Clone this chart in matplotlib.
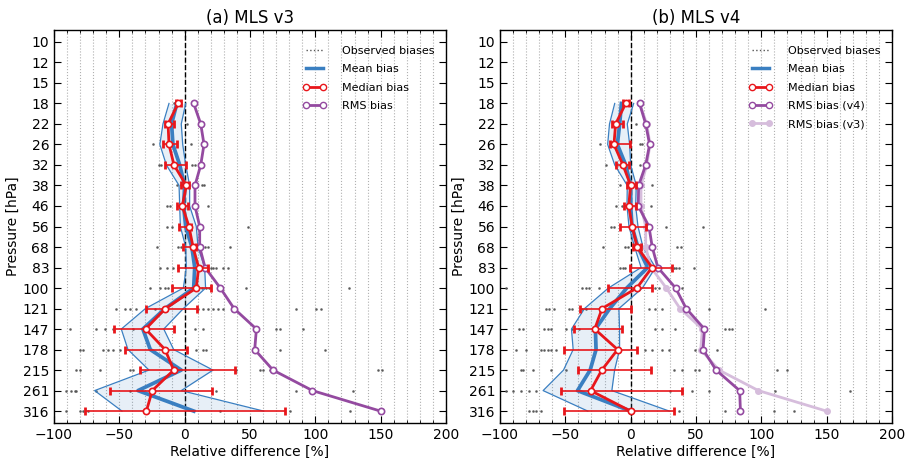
import numpy as np
import matplotlib
matplotlib.use("Agg")
import matplotlib.pyplot as plt
from matplotlib.lines import Line2D
from matplotlib.ticker import MultipleLocator, NullLocator

# ---------------- data ----------------
tick_labels = ["10", "12", "15", "18", "22", "26", "32", "38", "46", "56",
               "68", "83", "100", "121", "147", "178", "215", "261", "316"]
pressure_all = [10 ** (1 + k / 12) for k in range(19)]
pressure = pressure_all[3:]          # levels 18 ... 316 hPa carrying data

# (a) MLS v3
median_v3 = [-5, -12.7, -12, -8.2, 1.3, -1.8, 3.3, 6.4, 10.7, 8.9, -14.8, -29.9, -15, -8.4, -24.8, -29.3]
med_lo_v3 = [-7, -14.8, -16.6, -15.3, -3, -6, -4.3, -1.5, -5, -9.7, -29.3, -54.4, -45.4, -34, -57.4, -76]
med_hi_v3 = [-3, -8.2, -5.9, 1.3, 3.3, 2.3, 4.6, 9, 17.9, 19.9, 9.4, -8.4, 2, 38.3, 20.9, 76.6]
mean_v3 = [-6, -10, -9, -3.8, 0, -0.8, 0.8, 5.5, 7.7, 6.9, -15, -32, -26.3, -2.6, -35.7, 7]
band_lo_v3 = [-12, -16.6, -19, -14, -4.3, -3.8, -3.3, 0.8, 1.3, -1, -30, -48.5, -43.4, -27.3, -68.9, -48]
band_hi_v3 = [0.8, -2.6, -1.5, 0.8, 3.8, 3.8, 8.9, 10.2, 15.3, 16, -1, -16, -8.4, 21.7, -2.6, 60.5]
rms_v3 = [6.9, 12.3, 14.8, 12.3, 7.9, 7.9, 11.5, 11.5, 15.6, 27.3, 37.8, 54.9, 53.6, 67.6, 97.8, 149.9]

# (b) MLS v4
median_v4 = [-3.8, -11.5, -12.8, -5.9, 0, -1.5, 1.2, 5, 16.3, 4.7, -21.9, -27.5, -10, -22.1, -30.7, 0]
med_lo_v4 = [-5.9, -14, -16, -11.5, -2.6, -5.1, -8.4, 2, -0.8, -17.6, -39, -43.4, -50.8, -40.5, -53, -51.4]
med_hi_v4 = [-1.5, -5.9, -0.8, -1.3, 4.3, 3.8, 11.5, 8, 31.5, 16, 0, -6.8, 5, 15.2, 39.4, 32.8]
mean_v4 = [-7.1, -8.4, -10.2, -3.8, 0, 0, 1, 5.5, 13, -3, -16, -27, -26.5, -31, -40.7, 0]
band_lo_v4 = [-12.2, -16.2, -17.6, -12.2, -2.6, -2.8, -1.3, 3, 8, -17, -35.3, -45.3, -44, -51.4, -67, -32.8]
band_hi_v4 = [2.3, -2.6, -0.8, 0, 4.3, 3.8, 5.6, 9.4, 19, 9, -9, -8.5, -8.5, -12.3, -14.4, 29.6]
rms_v4 = [6.8, 11.5, 14.5, 11.5, 6.1, 5.8, 14, 16.5, 20.8, 34.4, 42.5, 56.5, 55.4, 65.4, 83.4, 84]

# observed individual biases per level (18 ... 316 hPa)
obs_v3 = [
    [-8], [1.8], [-24, 5], [-20, -18, 5.6, 7.7], [-5.6, -3, 13.3, 14.8],
    [-13.5, -11.5, 17.9], [-13.5, -10, 48.5], [-21, -5, -2.6, 12.8, 15.3, 17.9, 34.5],
    [-19, -13.5, -9, -5, 20.4, 22, 24.2, 29.4, 33.2],
    [-26.8, -19, -15, -12.8, 10, 13, 16, 19, 28, 47, 126],
    [-52.3, -45.9, -42.1, -37, -29.3, -23, 10.2, 14, 17.9, 21.7, 25.5, 29.4, 85.5, 100.8, 104.7],
    [-88, -67.6, -61.2, -54.8, -39.5, -29.3, 7.7, 14, 70.2, 72.8, 90.6],
    [-80.4, -77.9, -62.5, -58.6, -54.8, -49.7, 8.9, 14, 16.6, 72.8, 107.2],
    [-83, -80.4, -65, -42.1, -39.5, 39.5, 57.4, 60, 65.1, 148.1, 150.7],
    [-90.6, -86.8, -84.2, -83, -67.6, -42.1, 24.2, 85.5, 129],
    [-90.6, -80.4, -77.9, -74, 26.8, 80.4, 126.4, 151.9],
]
obs_v4 = [
    [], [3.8], [-23.4, 7.1, 8.4], [-19.1, 7], [-8.4, 16], [-11, -6.4, 15.3],
    [-15.3, -12.7, 26.7, 55.2], [-20.9, -4.4, -1.9, 35.7, 38.2],
    [-8.4, -6, -4.6, 33.2, 35, 37, 48.3],
    [-95.4, -37, -34.4, -31.9, -24.3, 19, 21.5, 26.6, 39.4],
    [-64.9, -62.4, -58.6, -47.1, -44.6, -37, -34.4, 13.9, 19, 24.1, 44.5, 59.8, 103.1],
    [-85.2, -82.7, -66.2, -63.6, -61.1, -49.7, -44.6, -39.5, 19, 24.1, 34.3, 72.5, 75.1, 77.6],
    [-87.8, -80.2, -68.7, -66.2, -63.6, -61.1, -57.3, 11.3, 16.4, 24.1, 29.2, 49.6, 66.1],
    [-84, -82.7, -75.1, -61.1, -49.7, 33, 39.4, 49.6, 52.1, 112, 119.6],
    [-95.4, -90.3, -84, -77.6, -72.5, 30.4, 39.4, 47, 59.8, 110.7, 168],
    [-77.6, -75.1, -72.5, -68.7, 36.8, 72.5, 109.4, 124.7],
]

# ---------------- styles ----------------
RED = "#e8161b"
BLUE = "#3a7fc1"
PURPLE = "#944aa0"
LPURPLE = "#d6bddc"
DOTS = "#555555"

fig = plt.figure(figsize=(9.06, 4.58), dpi=100)
ax1 = fig.add_axes([54 / 906, 1 - 423 / 458, 392 / 906, 393 / 458])
ax2 = fig.add_axes([500 / 906, 1 - 423 / 458, 392 / 906, 393 / 458])


def draw(ax, obs, mean, blo, bhi, med, mlo, mhi, rms, title, rms_old=None):
    ax.set_yscale("log")
    ax.set_xlim(-100, 200)
    ax.set_ylim(10 ** (1 + 18.58 / 12), 10 ** (1 - 0.58 / 12))
    ax.xaxis.set_major_locator(MultipleLocator(50))
    ax.xaxis.set_minor_locator(MultipleLocator(10))
    ax.yaxis.set_minor_locator(NullLocator())
    ax.set_yticks(pressure_all)
    ax.set_yticklabels(tick_labels)
    ax.grid(True, which="both", axis="x", linestyle=":", color="#b0b0b0", linewidth=0.8)
    ax.set_axisbelow(True)
    ax.tick_params(which="both", direction="in", top=True, right=True, labelsize=10)
    ax.tick_params(which="major", length=5)
    ax.tick_params(which="minor", length=2.5)
    for sp in ax.spines.values():
        sp.set_linewidth(1.0)

    # observed biases
    for p, vals in zip(pressure, obs):
        if vals:
            ax.plot(vals, [p] * len(vals), linestyle="none", marker=".", ms=1.8,
                    color=DOTS, alpha=0.85, zorder=2)
    ax.axvline(0, color="k", linestyle="--", linewidth=1.0, zorder=3)

    # mean band
    ax.fill_betweenx(pressure, blo, bhi, color=BLUE, alpha=0.12, linewidth=0, zorder=3)
    ax.plot(blo, pressure, color=BLUE, lw=0.9, zorder=4)
    ax.plot(bhi, pressure, color=BLUE, lw=0.9, zorder=4)
    ax.plot(mean, pressure, color=BLUE, lw=2.7, zorder=5)

    # rms
    if rms_old is not None:
        ax.plot(rms_old, pressure, color=LPURPLE, lw=2, marker="o", ms=4,
                mfc=LPURPLE, mec=LPURPLE, zorder=5)
    ax.plot(rms, pressure, color=PURPLE, lw=2, marker="o", ms=4.5,
            mfc="white", mec=PURPLE, mew=1.2, zorder=6)

    # median
    med = np.array(med)
    xerr = np.vstack([med - np.array(mlo), np.array(mhi) - med])
    ax.errorbar(med, pressure, xerr=xerr, fmt="none", ecolor=RED, elinewidth=1.2,
                capsize=3, capthick=2, zorder=6)
    ax.plot(med, pressure, color=RED, lw=2, marker="o", ms=4.5, mfc="white",
            mec=RED, mew=1.2, zorder=7)

    ax.set_title(title, fontsize=12, pad=5)
    ax.set_xlabel("Relative difference [%]", fontsize=10, labelpad=2)
    ax.set_ylabel("Pressure [hPa]", fontsize=10, labelpad=2)

    handles = [
        Line2D([], [], color=DOTS, linestyle=":", lw=1),
        Line2D([], [], color=BLUE, lw=2.5),
        Line2D([], [], color=RED, lw=2, marker="o", ms=4.5, mfc="white", mec=RED),
        Line2D([], [], color=PURPLE, lw=2, marker="o", ms=4.5, mfc="white", mec=PURPLE),
    ]
    labels = ["Observed biases", "Mean bias", "Median bias",
              "RMS bias" if rms_old is None else "RMS bias (v4)"]
    if rms_old is not None:
        handles.append(Line2D([], [], color=LPURPLE, lw=2, marker="o", ms=4,
                              mfc=LPURPLE, mec=LPURPLE))
        labels.append("RMS bias (v3)")
    ax.legend(handles, labels, loc="upper right", frameon=False, fontsize=8,
              numpoints=2, handlelength=2.1, handletextpad=1.4, labelspacing=0.75,
              bbox_to_anchor=(0.995, 0.985))


draw(ax1, obs_v3, mean_v3, band_lo_v3, band_hi_v3, median_v3, med_lo_v3, med_hi_v3,
     rms_v3, "(a) MLS v3")
draw(ax2, obs_v4, mean_v4, band_lo_v4, band_hi_v4, median_v4, med_lo_v4, med_hi_v4,
     rms_v4, "(b) MLS v4", rms_old=rms_v3)

fig.savefig("out.png", dpi=100)
